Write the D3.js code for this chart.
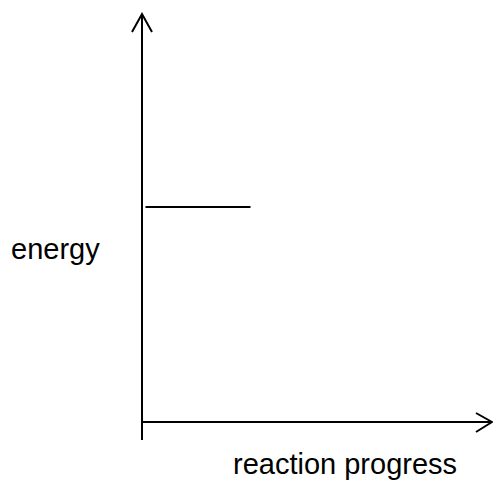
<!DOCTYPE html>
<html>
<head>
<meta charset="utf-8">
<script src="https://cdn.jsdelivr.net/npm/d3@7"></script>
<style>
  html, body { margin: 0; padding: 0; background: #fff; }
  svg { display: block; }
</style>
</head>
<body>
<svg id="chart" width="493" height="484"></svg>
<script>
// Data
const levelNames = ["reactants"];
const levelStart = [0.01];
const levelEnd = [0.31];
const levelEnergy = [0.527];
const xLabel = "reaction progress";
const yLabel = "energy";

const svg = d3.select("#chart");
const x0 = 142, x1 = 492, y0 = 422, y1 = 14;
const x = d3.scaleLinear().domain([0, 1]).range([x0, x1]);
const y = d3.scaleLinear().domain([0, 1]).range([y0, y1]);

const stroke = "#000";

// vertical axis (extends slightly below x-axis)
svg.append("line")
  .attr("x1", x(0)).attr("x2", x(0))
  .attr("y1", y0 + 18).attr("y2", y(1))
  .attr("stroke", stroke).attr("stroke-width", 2);
// top arrow head
svg.append("path")
  .attr("d", `M${x(0) - 10},${y(1) + 18} L${x(0)},${y(1)} L${x(0) + 10},${y(1) + 18}`)
  .attr("fill", "none").attr("stroke", stroke).attr("stroke-width", 2);

// horizontal axis
svg.append("line")
  .attr("x1", x(0)).attr("x2", x(1))
  .attr("y1", y(0)).attr("y2", y(0))
  .attr("stroke", stroke).attr("stroke-width", 2);
svg.append("path")
  .attr("d", `M${x(1) - 16},${y(0) - 9} L${x(1)},${y(0)} L${x(1) - 16},${y(0) + 10}`)
  .attr("fill", "none").attr("stroke", stroke).attr("stroke-width", 2);

// energy levels
const levels = levelNames.map((n, i) => ({ name: n, s: levelStart[i], e: levelEnd[i], v: levelEnergy[i] }));
svg.selectAll("line.level").data(levels).enter().append("line")
  .attr("class", "level")
  .attr("x1", d => x(d.s)).attr("x2", d => x(d.e))
  .attr("y1", d => y(d.v)).attr("y2", d => y(d.v))
  .attr("stroke", stroke).attr("stroke-width", 2);

// labels
svg.append("text")
  .attr("x", 11).attr("y", 259)
  .attr("font-family", "Liberation Sans, Arial, sans-serif")
  .attr("font-size", 29)
  .attr("fill", "#000")
  .text(yLabel);
svg.append("text")
  .attr("x", 233).attr("y", 474)
  .attr("font-family", "Liberation Sans, Arial, sans-serif")
  .attr("font-size", 29)
  .attr("fill", "#000")
  .text(xLabel);
</script>
</body>
</html>
